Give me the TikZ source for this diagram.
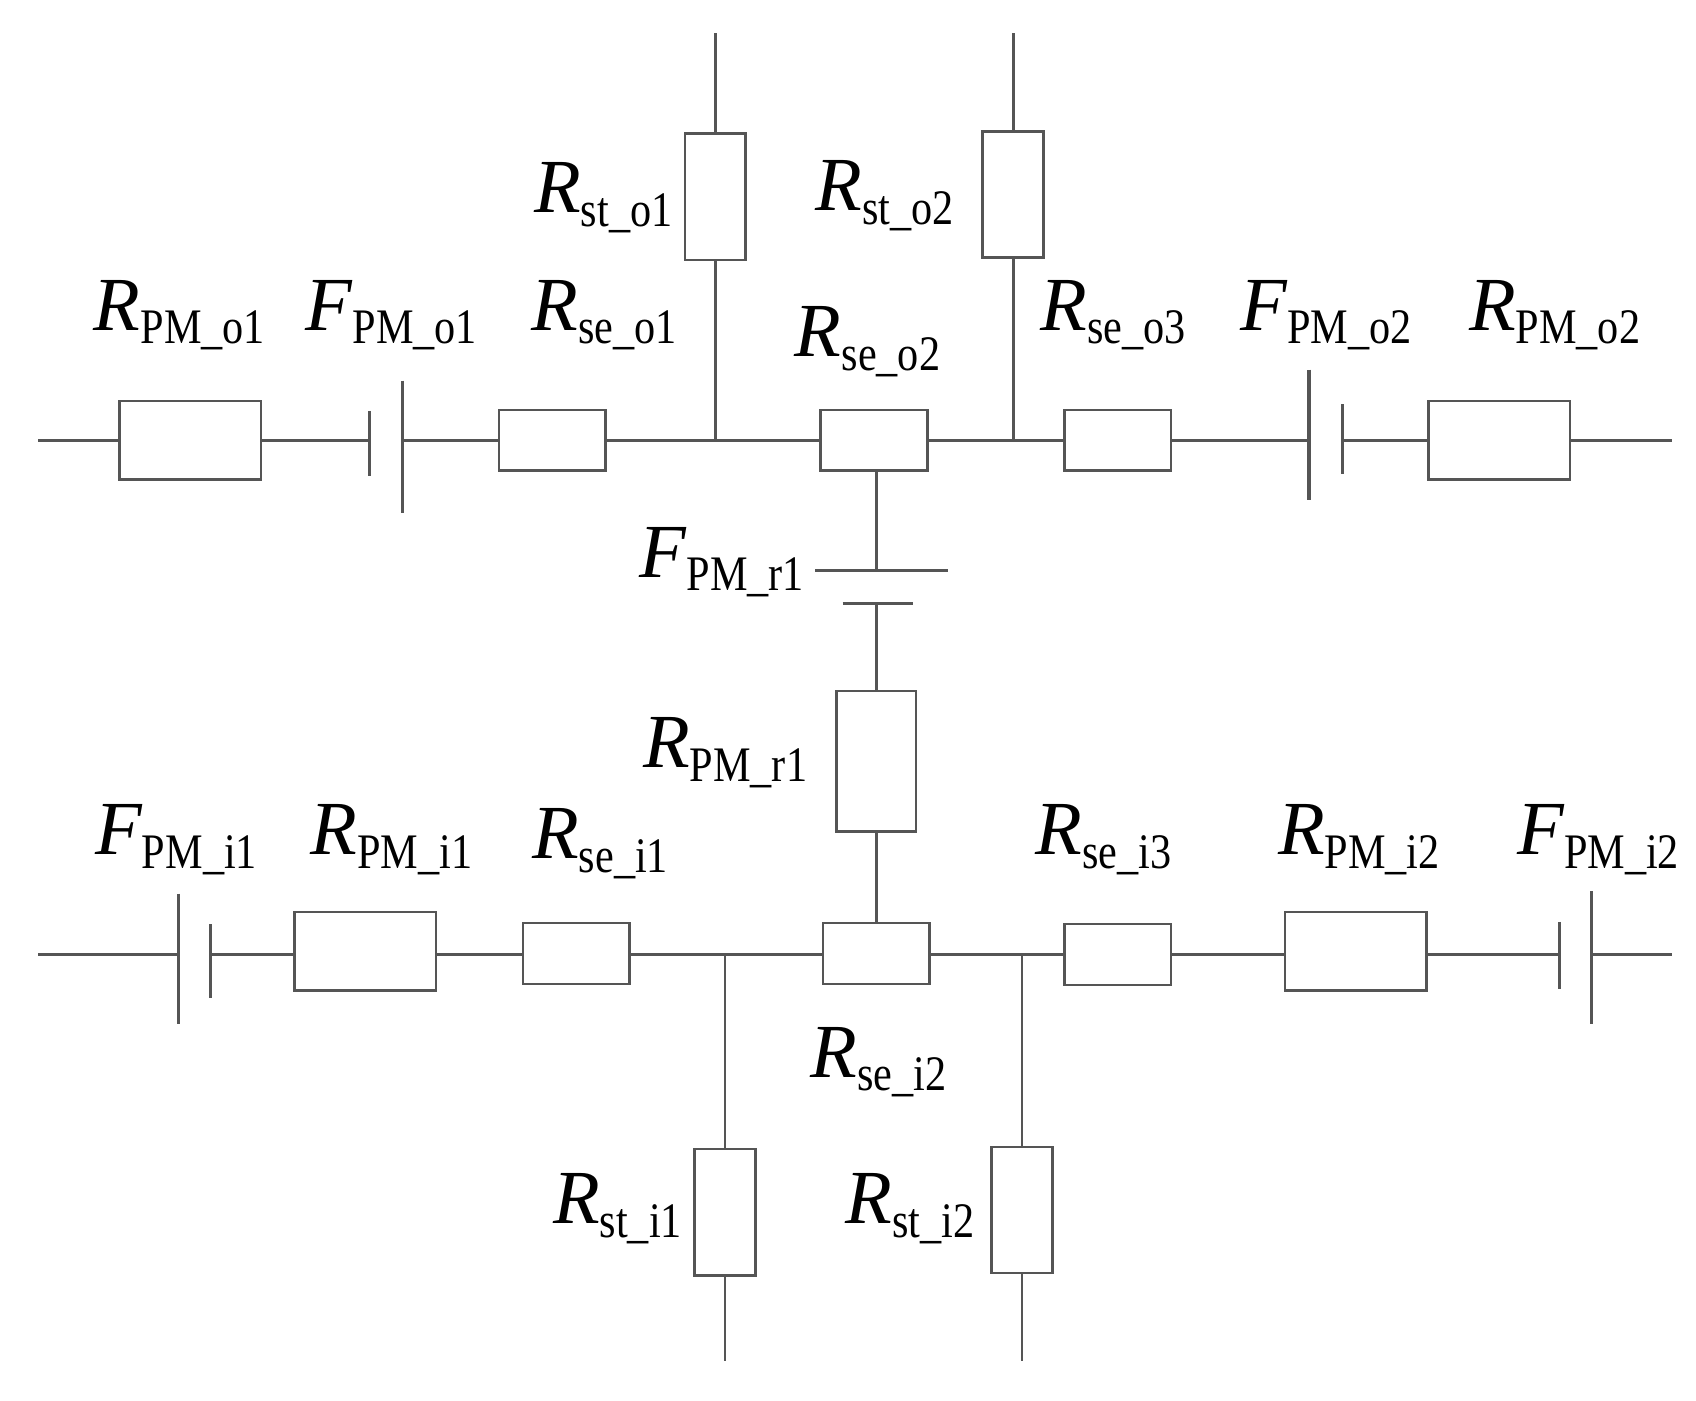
\documentclass[tikz,border=0pt]{standalone}
\usepackage{fontspec}
\setmainfont{Liberation Serif}
\usetikzlibrary{positioning}
\definecolor{wire}{HTML}{555555}
\newcommand{\lbl}[2]{{\fontsize{20}{24}\selectfont\itshape #1}\raisebox{-0.36em}{\scalebox{0.85}[1]{\fontsize{13}{13}\selectfont #2}}}
\begin{document}
\begin{tikzpicture}[x=0.01cm, y=-0.01cm, line width=0.7pt, draw=wire,
    res/.style={draw=wire, fill=white, inner sep=0pt},
    hres/.style={res, minimum width=0.98cm, minimum height=0.56cm},
    pmres/.style={res, minimum width=1.3cm, minimum height=0.72cm},
    vres/.style={res, minimum width=0.56cm, minimum height=1.16cm},
    plate/.style={draw=wire, line width=0.8pt},
    lab/.style={inner sep=0pt}
  ]
  \useasboundingbox (0,0) rectangle (1560,1288);

  % upper branch
  \coordinate (lo) at (35,405);
  \coordinate (ro) at (1538,405);
  \node[pmres] (Rpmo1) at (175,405) {};
  \coordinate (Fo1a) at (340,405);
  \coordinate (Fo1b) at (370,405);
  \node[hres] (Rseo1) at (508,405) {};
  \coordinate (jo1) at (658,405);
  \node[vres] (Rsto1) at (658,181) {};
  \coordinate (to1) at (658,30);
  \node[hres] (Rseo2) at (804,405) {};
  \coordinate (jo2) at (932,405);
  \node[vres] (Rsto2) at (932,179) {};
  \coordinate (to2) at (932,30);
  \node[hres] (Rseo3) at (1028,405) {};
  \coordinate (Fo2a) at (1204,405);
  \coordinate (Fo2b) at (1235,405);
  \node[pmres] (Rpmo2) at (1379,405) {};

  \draw (lo) -- (Rpmo1) -- (Fo1a);
  \draw (Fo1b) -- (Rseo1) -- (jo1) -- (Rseo2) -- (jo2) -- (Rseo3) -- (Fo2a);
  \draw (Fo2b) -- (Rpmo2) -- (ro);
  \draw (jo1) -- (Rsto1) -- (to1);
  \draw (jo2) -- (Rsto2) -- (to2);
  \draw[plate] (340,378) -- (340,438);
  \draw[plate] (370,350) -- (370,472);
  \draw[plate] (1204,340) -- (1204,460);
  \draw[plate] (1235,372) -- (1235,436);

  % radial branch
  \coordinate (Fr1a) at (806,525);
  \coordinate (Fr1b) at (806,555);
  \node[res, minimum width=0.73cm, minimum height=1.29cm] (Rpmr1) at (806,700) {};
  \draw (Rseo2.south -| Fr1a) -- (Fr1a);
  \draw[plate] (750,525) -- (872,525);
  \draw[plate] (775,555) -- (840,555);

  % lower branch
  \coordinate (li) at (35,878);
  \coordinate (ri) at (1538,878);
  \coordinate (Fi1a) at (164,878);
  \coordinate (Fi1b) at (194,878);
  \node[pmres] (Rpmi1) at (336,875) {};
  \node[hres] (Rsei1) at (530,877) {};
  \coordinate (ji1) at (667,878);
  \node[vres] (Rsti1) at (667,1115) {};
  \coordinate (bi1) at (667,1252);
  \node[hres] (Rsei2) at (806,877) {};
  \coordinate (ji2) at (940,878);
  \node[vres] (Rsti2) at (940,1113) {};
  \coordinate (bi2) at (940,1252);
  \node[hres] (Rsei3) at (1028,878) {};
  \node[pmres] (Rpmi2) at (1247,875) {};
  \coordinate (Fi2a) at (1434,878);
  \coordinate (Fi2b) at (1464,878);

  \draw (Fr1b) -- (Rpmr1) -- (Rsei2.north -| Fr1b);
  \draw (li) -- (Fi1a);
  \draw (Fi1b) -- (Rpmi1.west |- Fi1b);
  \draw (Rpmi1.east |- ji1) -- (Rsei1.west |- ji1);
  \draw (Rsei1.east |- ji1) -- (ji1) -- (Rsei2.west |- ji1);
  \draw (Rsei2.east |- ji1) -- (ji2) -- (Rsei3) -- (Rpmi2.west |- ji2);
  \draw (Rpmi2.east |- ji2) -- (Fi2a);
  \draw (Fi2b) -- (ri);
  \draw (ji1) -- (Rsti1) -- (bi1);
  \draw (ji2) -- (Rsti2) -- (bi2);
  \draw[plate] (164,822) -- (164,942);
  \draw[plate] (194,850) -- (194,918);
  \draw[plate] (1434,848) -- (1434,910);
  \draw[plate] (1464,820) -- (1464,942);

  % labels
  \node[lab] (tRpmo1) at (165,290) {\lbl{R}{PM\_o1}};
  \node[lab] (tFpmo1) at (360,290) {\lbl{F}{PM\_o1}};
  \node[lab] (tRseo1) at (556,290) {\lbl{R}{se\_o1}};
  \node[lab] (tRsto1) at (555,182) {\lbl{R}{st\_o1}};
  \node[lab] (tRsto2) at (814,180) {\lbl{R}{st\_o2}};
  \node[lab] (tRseo2) at (798,314) {\lbl{R}{se\_o2}};
  \node[lab] (tRseo3) at (1024,290) {\lbl{R}{se\_o3}};
  \node[lab] (tFpmo2) at (1220,290) {\lbl{F}{PM\_o2}};
  \node[lab] (tRpmo2) at (1430,290) {\lbl{R}{PM\_o2}};
  \node[lab] (tFpmr1) at (664,517) {\lbl{F}{PM\_r1}};
  \node[lab] (tRpmr1) at (667,692) {\lbl{R}{PM\_r1}};
  \node[lab] (tFpmi1) at (162,772) {\lbl{F}{PM\_i1}};
  \node[lab] (tRpmi1) at (360,772) {\lbl{R}{PM\_i1}};
  \node[lab] (tRsei1) at (552,776) {\lbl{R}{se\_i1}};
  \node[lab] (tRsei3) at (1015,772) {\lbl{R}{se\_i3}};
  \node[lab] (tRpmi2) at (1250,772) {\lbl{R}{PM\_i2}};
  \node[lab] (tFpmi2) at (1470,772) {\lbl{F}{PM\_i2}};
  \node[lab] (tRsei2) at (808,977) {\lbl{R}{se\_i2}};
  \node[lab] (tRsti1) at (568,1112) {\lbl{R}{st\_i1}};
  \node[lab] (tRsti2) at (837,1112) {\lbl{R}{st\_i2}};
\end{tikzpicture}
\end{document}
